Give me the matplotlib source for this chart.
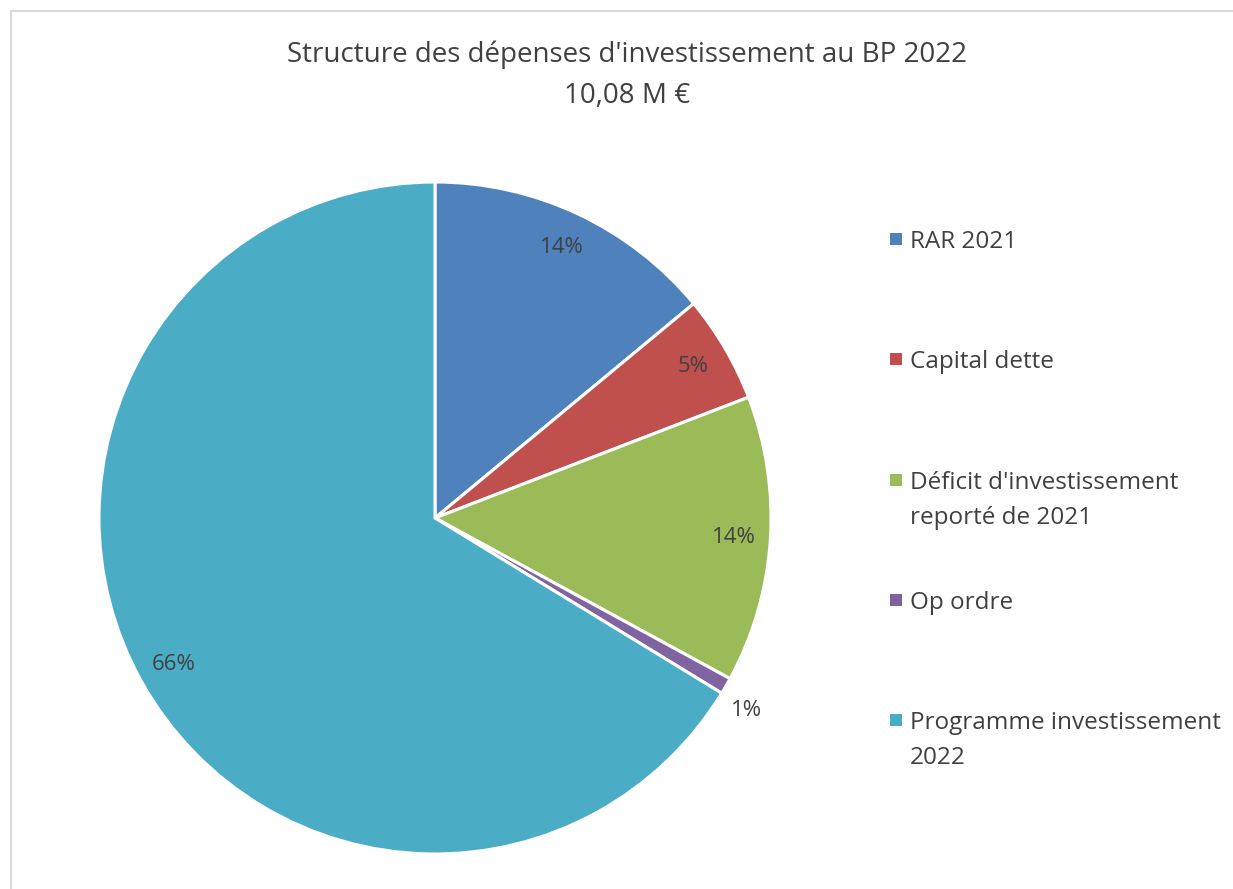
import matplotlib
matplotlib.use("Agg")
import matplotlib.pyplot as plt
import numpy as np
from matplotlib.patches import Rectangle

plt.rcParams['font.family'] = ['Open Sans', 'DejaVu Sans']

categories = ["RAR 2021", "Capital dette", "Déficit d'investissement\nreporté de 2021",
              "Op ordre", "Programme investissement\n2022"]
values = [1.41, 0.52, 1.39, 0.08, 6.68]  # M€
colors = ["#4F81BD", "#C0504D", "#9BBB59", "#8064A2", "#4BACC6"]
text_col = "#404040"

W, H = 1233, 889
fig = plt.figure(figsize=(W / 100, H / 100), dpi=100)

# frame of the chart area
fig.patches.append(Rectangle((11 / W, -0.1), 1.2, (H - 11) / H + 0.1, transform=fig.transFigure,
                             fill=False, edgecolor="#d9d9d9", linewidth=1.5))

cx, cy, r = 435, 518, 336
ax = fig.add_axes([(cx - r) / W, (H - cy - r) / H, 2 * r / W, 2 * r / H])

wedges, texts, autotexts = ax.pie(values, colors=colors, startangle=90, counterclock=False,
                                  autopct=lambda p: f"{p:.0f}%", pctdistance=0.89,
                                  wedgeprops=dict(edgecolor="white", linewidth=2.2),
                                  textprops=dict(color=text_col, fontsize=16))
ax.set_xlim(-1, 1)
ax.set_ylim(-1, 1)
ax.set_aspect("auto")

# small slice label outside
t = autotexts[3]
w = wedges[3]
ang = np.deg2rad((w.theta1 + w.theta2) / 2 - 1.8)
t.set_position((1.09 * np.cos(ang), 1.09 * np.sin(ang)))

# title
fig.text(627 / W, 1 - 62 / H, "Structure des dépenses d'investissement au BP 2022",
         ha="center", va="baseline", fontsize=20, color=text_col)
fig.text(627 / W, 1 - 103 / H, "10,08 M €",
         ha="center", va="baseline", fontsize=20, color=text_col)

# legend: first lines spaced evenly, marker next to the first line
leg_y0, leg_dy, line_dy = 239, 120.3, 35
for i, (lab, col) in enumerate(zip(categories, colors)):
    yc = leg_y0 + i * leg_dy
    fig.patches.append(Rectangle((890 / W, 1 - (yc + 6) / H), 12 / W, 12 / H,
                                 transform=fig.transFigure, facecolor=col, edgecolor="none"))
    for k, line in enumerate(lab.split("\n")):
        fig.text(910 / W, 1 - (yc + 9 + k * line_dy) / H, line, ha="left", va="baseline",
                 fontsize=17.5, color=text_col)

fig.savefig("out.png", dpi=100)
